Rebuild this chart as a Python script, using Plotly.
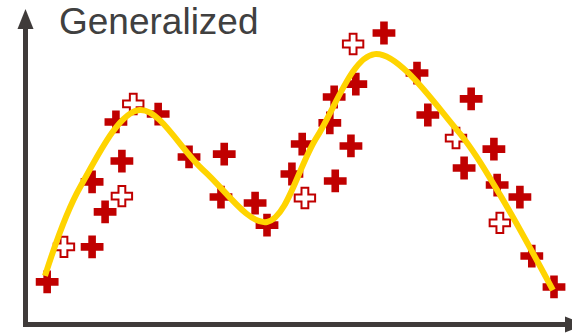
import plotly.graph_objects as go

# Observations (arbitrary units): solid markers
solid_x = [0.40, 1.23, 1.47, 1.23, 1.78, 1.67, 2.45, 3.02, 3.67, 3.61, 4.24, 4.46,
           4.92, 5.11, 5.62, 5.70, 5.72, 6.01, 6.10, 6.62, 7.23, 7.43, 8.23, 8.65,
           8.10, 8.71, 9.13, 9.35, 9.76]
solid_y = [1.35, 2.46, 3.57, 4.52, 5.18, 6.42, 6.67, 5.31, 5.40, 4.04, 3.85, 3.15,
           4.77, 5.72, 6.39, 7.21, 4.55, 5.66, 7.62, 9.24, 7.97, 6.64, 7.15, 5.56,
           4.96, 4.42, 4.04, 2.17, 1.19]

# Observations (arbitrary units): open markers
open_x = [0.71, 1.78, 1.99, 5.16, 6.05, 7.95, 8.76]
open_y = [2.46, 4.07, 6.99, 4.01, 8.89, 5.91, 3.22]

# Fitted curve knots
fit_x = [0.36, 1.01, 2.11, 3.28, 4.46, 5.38, 6.45, 7.97, 8.71, 9.74]
fit_y = [1.54, 4.36, 6.80, 4.90, 3.25, 5.94, 8.57, 6.16, 4.26, 1.09]

TITLE = "Generalized"

W, H = 572, 333
RED = "#C00000"
GOLD = "#FFD400"
AXIS = "#3F3B3A"

# pixel placement of the data origin and unit sizes
X0, Y0 = 25.5, 324.5
UX, UY = 54.15, 31.55

def px(x):
    return x / W

def py(y):
    return 1 - y / H

fig = go.Figure()

fig.add_trace(go.Scatter(
    x=solid_x, y=solid_y, mode="markers",
    marker=dict(symbol="cross", size=19, color=RED, line=dict(width=0)),
    hoverinfo="skip", showlegend=False,
))
fig.add_trace(go.Scatter(
    x=open_x, y=open_y, mode="markers",
    marker=dict(symbol="cross-open", size=17, color=RED, line=dict(width=2, color=RED)),
    hoverinfo="skip", showlegend=False,
))
fig.add_trace(go.Scatter(
    x=fit_x, y=fit_y, mode="lines",
    line=dict(color=GOLD, width=6, shape="spline", smoothing=1.0),
    hoverinfo="skip", showlegend=False,
))

shapes = [
    # vertical axis
    dict(type="line", xref="paper", yref="paper",
         x0=px(X0), y0=py(327), x1=px(X0), y1=py(27),
         line=dict(color=AXIS, width=5)),
    dict(type="path", xref="paper", yref="paper",
         path=f"M {px(X0 - 8)} {py(29)} L {px(X0)} {py(9)} L {px(X0 + 8)} {py(29)} Z",
         fillcolor=AXIS, line=dict(width=0)),
    # horizontal axis
    dict(type="line", xref="paper", yref="paper",
         x0=px(23), y0=py(Y0), x1=px(567), y1=py(Y0),
         line=dict(color=AXIS, width=5)),
    dict(type="path", xref="paper", yref="paper",
         path=f"M {px(565)} {py(Y0 - 8)} L {px(585)} {py(Y0)} L {px(565)} {py(Y0 + 8)} Z",
         fillcolor=AXIS, line=dict(width=0)),
]

fig.update_layout(
    width=W, height=H,
    margin=dict(l=0, r=0, t=0, b=0),
    paper_bgcolor="white", plot_bgcolor="white",
    xaxis=dict(range=[(0 - X0) / UX, (W - X0) / UX], visible=False, fixedrange=True),
    yaxis=dict(range=[(Y0 - H) / UY, Y0 / UY], visible=False, fixedrange=True),
    shapes=shapes,
    annotations=[dict(
        text=TITLE, xref="paper", yref="paper",
        x=px(57), y=py(22), xanchor="left", yanchor="middle",
        showarrow=False,
        font=dict(family="Liberation Sans, Arial, sans-serif", size=37, color="#404040"),
    )],
)

fig.write_html("out.html")
